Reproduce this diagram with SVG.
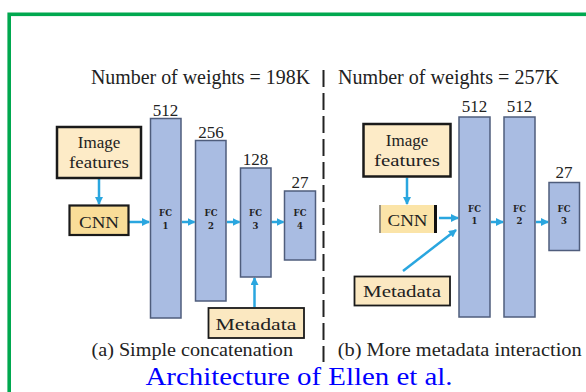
<svg xmlns="http://www.w3.org/2000/svg" width="586" height="392" viewBox="0 0 586 392">
<style>
.t{font-family:"Liberation Serif","DejaVu Serif",serif;fill:#222}
.num{font-size:17px;text-anchor:middle}
.fc{fill:#a9bce2;stroke:#4f5d7c;stroke-width:1.5}
.fcl{font-family:"DejaVu Serif",serif;font-size:8.5px;font-weight:bold;fill:#222;text-anchor:middle}
.box{stroke:#1a1a1a}
.lbl{font-size:17px;text-anchor:middle}
.arr{stroke:#2aa6df;stroke-width:2.5;fill:none;marker-end:url(#ah)}
.cap{font-family:"Liberation Serif","Times New Roman",serif;font-size:26px;fill:#0000ff}
</style>
<defs>
<marker id="ah" markerUnits="userSpaceOnUse" markerWidth="8" markerHeight="8" refX="7" refY="4" orient="auto">
<path d="M0,0 L8,4 L0,8 Z" fill="#2aa6df"/>
</marker>
</defs>
<rect x="0" y="0" width="586" height="392" fill="#ffffff"/>
<rect x="9.2" y="14.3" width="620" height="420" fill="none" stroke="#00a84f" stroke-width="3.6"/>

<g id="titles">
<text class="t" x="91" y="84" font-size="20" textLength="219" lengthAdjust="spacingAndGlyphs">Number of weights = 198K</text>
<text class="t" x="338" y="84" font-size="20" textLength="221" lengthAdjust="spacingAndGlyphs">Number of weights = 257K</text>
</g>
<g id="separator">
<line x1="323.5" y1="70" x2="323.5" y2="362" stroke="#222" stroke-width="2" stroke-dasharray="17 6"/>
</g>

<g id="connectors">
<line class="arr" x1="99" y1="179" x2="99" y2="204"/>
<line class="arr" x1="129" y1="222" x2="149" y2="222"/>
<line class="arr" x1="182" y1="222" x2="194.5" y2="222"/>
<line class="arr" x1="227" y1="222" x2="239.5" y2="222"/>
<line class="arr" x1="271.5" y1="222" x2="283.5" y2="222"/>
<line class="arr" x1="254.5" y1="307" x2="254.5" y2="278"/>
<line class="arr" x1="407" y1="177.5" x2="407" y2="204"/>
<line class="arr" x1="439" y1="218" x2="458" y2="218"/>
<line class="arr" x1="403" y1="271" x2="456" y2="230"/>
<line class="arr" x1="491" y1="222" x2="503" y2="222"/>
<line class="arr" x1="536" y1="222" x2="548" y2="222"/>
</g>

<g id="a-image-features">
<rect class="box" x="57" y="127" width="84" height="51" fill="#fdebc7" stroke-width="2.5"/>
<text class="t lbl" x="99" y="148" font-size="16">Image</text>
<text class="t lbl" x="99" y="168" font-size="16" textLength="60" lengthAdjust="spacingAndGlyphs">features</text>
</g>
<g id="a-cnn">
<rect class="box" x="69.5" y="205.5" width="59" height="29.5" fill="#f9dd98" stroke-width="2.2"/>
<text class="t lbl" x="99" y="228" font-size="18" textLength="40" lengthAdjust="spacingAndGlyphs">CNN</text>
</g>
<g id="a-fc1">
<text class="t num" x="165.5" y="116" font-size="18">512</text>
<rect class="fc" x="150.5" y="118.5" width="30.5" height="199.5"/>
<text class="fcl" x="165.5" y="216">FC</text>
<text class="fcl" x="165.5" y="229">1</text>
</g>
<g id="a-fc2">
<text class="t num" x="211" y="138">256</text>
<rect class="fc" x="195.5" y="140.5" width="30.5" height="160.5"/>
<text class="fcl" x="211" y="216">FC</text>
<text class="fcl" x="211" y="229">2</text>
</g>
<g id="a-fc3">
<text class="t num" x="255.5" y="165">128</text>
<rect class="fc" x="240.5" y="168" width="30.5" height="109"/>
<text class="fcl" x="255.5" y="216">FC</text>
<text class="fcl" x="255.5" y="229">3</text>
</g>
<g id="a-fc4">
<text class="t num" x="300" y="188">27</text>
<rect class="fc" x="284.5" y="191" width="31" height="69"/>
<text class="fcl" x="300" y="216">FC</text>
<text class="fcl" x="300" y="229">4</text>
</g>
<g id="a-metadata">
<rect class="box" x="208.5" y="308" width="95.5" height="30" fill="#fbe8c1" stroke-width="1.8"/>
<text class="t lbl" x="256" y="330" font-size="18" textLength="81" lengthAdjust="spacingAndGlyphs">Metadata</text>
</g>
<g id="a-caption">
<text class="t" x="91.5" y="356" font-size="18" textLength="201.5" lengthAdjust="spacingAndGlyphs">(a) Simple concatenation</text>
</g>

<g id="b-image-features">
<rect class="box" x="363.5" y="124" width="87" height="52.5" fill="#fdebc7" stroke-width="2.5"/>
<text class="t lbl" x="407" y="146" font-size="16">Image</text>
<text class="t lbl" x="407" y="166" font-size="16" textLength="66" lengthAdjust="spacingAndGlyphs">features</text>
</g>
<g id="b-cnn">
<rect x="379.5" y="205" width="56" height="28" fill="#fbe4a8"/>
<line x1="380" y1="205" x2="380" y2="233" stroke="#777" stroke-width="1.5"/>
<line x1="435.5" y1="205" x2="435.5" y2="233" stroke="#111" stroke-width="3"/>
<text class="t lbl" x="407.5" y="226" font-size="17" textLength="40" lengthAdjust="spacingAndGlyphs" fill="#444">CNN</text>
</g>
<g id="b-fc1">
<text class="t num" x="474.5" y="112" font-size="18">512</text>
<rect class="fc" x="459" y="117" width="31" height="200"/>
<text class="fcl" x="474.5" y="212">FC</text>
<text class="fcl" x="474.5" y="224">1</text>
</g>
<g id="b-fc2">
<text class="t num" x="519.5" y="112" font-size="18">512</text>
<rect class="fc" x="504" y="117" width="31" height="200"/>
<text class="fcl" x="519.5" y="212">FC</text>
<text class="fcl" x="519.5" y="224">2</text>
</g>
<g id="b-fc3">
<text class="t num" x="564" y="178">27</text>
<rect class="fc" x="549" y="182.5" width="30.5" height="68"/>
<text class="fcl" x="564" y="212">FC</text>
<text class="fcl" x="564" y="224">3</text>
</g>
<g id="b-metadata">
<rect class="box" x="354.5" y="276.5" width="95.5" height="29" fill="#fbe8c1" stroke-width="1.8"/>
<text class="t lbl" x="402" y="297" font-size="18" textLength="78" lengthAdjust="spacingAndGlyphs">Metadata</text>
</g>
<g id="b-caption">
<text class="t" x="337.7" y="356" font-size="18" textLength="244" lengthAdjust="spacingAndGlyphs">(b) More metadata interaction</text>
</g>

<g id="caption">
<text class="cap" x="145.5" y="385" textLength="307" lengthAdjust="spacingAndGlyphs">Architecture of Ellen et al.</text>
</g>
</svg>
